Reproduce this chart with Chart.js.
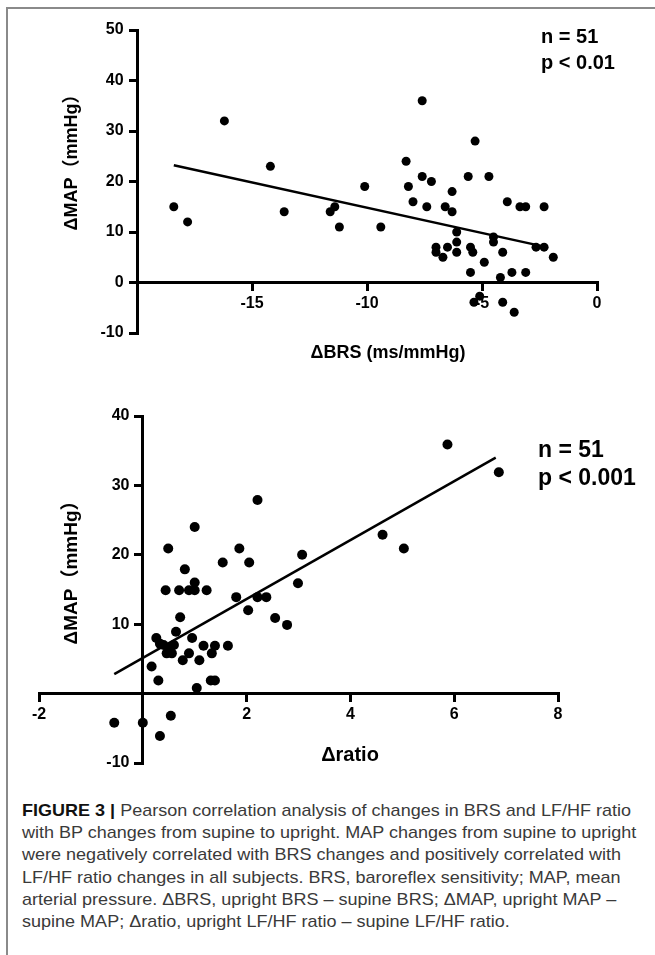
<!DOCTYPE html>
<html>
<head>
    <meta charset="UTF-8">
    <title>Figure 3</title>
    <script src="https://cdn.jsdelivr.net/npm/chart.js"></script>
    <style>
        body { margin: 0; background: #fff; }
        #page { position: relative; width: 655px; height: 955px; overflow: hidden; }
        #frame { position: absolute; left: 6px; top: 7px; width: 660px; height: 960px;
                 border-top: 2px solid #8a8a8a; border-left: 2px solid #8a8a8a; }
        #top-wrap { position: absolute; left: 0; top: 0; width: 655px; height: 380px; }
        #bottom-wrap { position: absolute; left: 0; top: 380px; width: 655px; height: 400px; }
        #caption { position: absolute; left: 22px; top: 800px; font-family: "Liberation Sans", "Roboto", sans-serif;
                   font-size: 17px; line-height: 22.2px; color: #3a3a3a; white-space: nowrap;
                   transform: scaleX(1.06); transform-origin: 0 0; }
        #caption b { font-weight: bold; color: #111; }
    </style>
</head>
<body>
<div id="page">
    <div id="frame"></div>
    <div id="top-wrap"><canvas id="brs-chart" width="655" height="380"></canvas></div>
    <div id="bottom-wrap"><canvas id="ratio-chart" width="655" height="400"></canvas></div>
    <div id="caption">
        <b>FIGURE 3 |</b> Pearson correlation analysis of changes in BRS and LF/HF ratio<br>
        with BP changes from supine to upright. MAP changes from supine to upright<br>
        were negatively correlated with BRS changes and positively correlated with<br>
        LF/HF ratio changes in all subjects. BRS, baroreflex sensitivity; MAP, mean<br>
        arterial pressure. &Delta;BRS, upright BRS &ndash; supine BRS; &Delta;MAP, upright MAP &ndash;<br>
        supine MAP; &Delta;ratio, upright LF/HF ratio &ndash; supine LF/HF ratio.
    </div>
</div>

<script>
// top panel: dBRS vs dMAP
const brsX = [-18.4, -17.8, -16.2, -14.2, -13.6, -11.6, -11.4, -11.2, -10.1, -9.4,
    -8.3, -8.2, -8.0, -7.6, -7.6, -7.4, -7.2, -7.0, -7.0, -6.7,
    -6.5, -6.6, -6.3, -6.3, -6.1, -6.1, -6.1, -5.6, -5.5, -5.4,
    -5.5, -5.3, -5.1, -5.35, -4.9, -4.7, -4.5, -4.5, -4.1, -4.1,
    -4.2, -3.9, -3.7, -3.6, -3.35, -3.1, -3.1, -2.65, -2.3, -2.3, -1.9];
const brsMap = [15, 12, 32, 23, 14, 14, 15, 11, 19, 11,
    24, 19, 16, 36, 21, 15, 20, 7, 6, 5,
    7, 15, 18, 14, 10, 8, 6, 21, 7, 6,
    2, 28, -2.7, -3.9, 4, 21, 9, 8, -3.9, 6,
    1, 16, 2, -5.9, 15, 15, 2, 7, 7, 15, 5];
const brsFitX = [-18.4, -2.2];
const brsFitY = [23.2, 7.0];
const brsTicksX = [-15, -10, -5, 0];
const brsTicksY = [-10, 0, 10, 20, 30, 40, 50];

// bottom panel: dratio vs dMAP
const ratioX = [-0.55, 0.0, 0.33, 0.54, 0.17, 0.30, 0.26, 0.33, 0.46, 0.56,
    0.60, 0.64, 0.72, 0.77, 0.89, 0.95, 1.09, 1.04, 1.17, 1.33,
    1.39, 1.31, 1.39, 1.64, 0.49, 1.00, 0.81, 0.44, 0.70, 0.89,
    1.00, 1.00, 1.23, 1.54, 1.86, 2.05, 1.80, 2.03, 2.21, 2.38,
    2.21, 3.07, 2.99, 2.55, 2.78, 5.87, 6.86, 4.62, 5.03, 0.40, 0.52];
const ratioMap = [-4.2, -4.2, -6.1, -3.2, 3.9, 1.9, 8, 7.2, 5.8, 5.8,
    7, 8.9, 11, 4.8, 5.8, 8, 4.8, 0.8, 6.9, 5.8,
    6.9, 1.9, 1.9, 6.9, 20.9, 24, 17.9, 14.9, 14.9, 14.9,
    16, 14.9, 14.9, 18.9, 20.9, 18.9, 13.9, 12, 13.9, 13.9,
    27.9, 20, 15.9, 10.9, 9.9, 35.9, 31.9, 22.9, 20.9, 7, 6.5];
const ratioFitX = [-0.55, 6.8];
const ratioFitY = [2.8, 34.0];
const ratioTicksX = [-2, 2, 4, 6, 8];
const ratioTicksY = [-10, 10, 20, 30, 40];

function pairs(xs, ys) {
    return xs.map((x, i) => ({x: x, y: ys[i]}));
}

const textPlugin = {
    id: 'panelText',
    afterDraw(chart, args, opts) {
        const ctx = chart.ctx;
        ctx.save();
        ctx.fillStyle = '#000';
        ctx.textBaseline = 'middle';
        opts.items.forEach(t => {
            ctx.save();
            ctx.font = t.font;
            ctx.textAlign = t.align || 'left';
            ctx.translate(t.x, t.y);
            if (t.rotate) ctx.rotate(-Math.PI / 2);
            ctx.fillText(t.text, 0, 0);
            ctx.restore();
        });
        ctx.restore();
    }
};

// y labels on an axis placed by value sit right on the line, so pad them with spaces
function axis(min, max, step, pos, keep, vertical) {
    return {
        type: 'linear',
        min: min,
        max: max,
        position: pos,
        afterBuildTicks: s => { s.ticks = s.ticks.filter(t => keep.includes(t.value)); },
        border: {color: '#000', width: 3},
        grid: {drawOnChartArea: false, color: '#000', lineWidth: 3, tickLength: 7, tickWidth: 3},
        ticks: {stepSize: step, color: '#000', padding: 4,
            callback: v => vertical ? v + '   ' : String(v),
            font: {family: 'Liberation Sans', weight: 'bold', size: 16}}
    };
}

const bold = (px) => 'bold ' + px + 'px "Liberation Sans", "Noto Sans CJK SC", sans-serif';

new Chart(document.getElementById('brs-chart'), {
    type: 'scatter',
    data: {
        datasets: [{
            data: pairs(brsX, brsMap),
            backgroundColor: '#000',
            borderWidth: 0,
            pointRadius: 4.5
        }, {
            type: 'line',
            data: pairs(brsFitX, brsFitY),
            borderColor: '#000',
            borderWidth: 2.5,
            pointRadius: 0
        }]
    },
    options: {
        responsive: false,
        animation: false,
        layout: {padding: {left: 137, right: 58, top: 30, bottom: 47}},
        plugins: {
            legend: {display: false},
            tooltip: {enabled: false},
            panelText: {items: [
                {text: 'ΔMAP（mmHg）', x: 72, y: 158, align: 'center', rotate: true, font: bold(18)},
                {text: 'ΔBRS (ms/mmHg)', x: 388, y: 353, align: 'center', font: bold(18)},
                {text: 'n = 51', x: 541, y: 37, font: bold(20)},
                {text: 'p < 0.01', x: 541, y: 63, font: bold(20)}
            ]}
        },
        scales: {
            x: axis(-20, 0, 5, {y: 0}, brsTicksX, false),
            y: axis(-10, 50, 10, {x: -20}, brsTicksY, true)
        }
    },
    plugins: [textPlugin]
});

new Chart(document.getElementById('ratio-chart'), {
    type: 'scatter',
    data: {
        datasets: [{
            data: pairs(ratioX, ratioMap),
            backgroundColor: '#000',
            borderWidth: 0,
            pointRadius: 5
        }, {
            type: 'line',
            data: pairs(ratioFitX, ratioFitY),
            borderColor: '#000',
            borderWidth: 2.5,
            pointRadius: 0
        }]
    },
    options: {
        responsive: false,
        animation: false,
        layout: {padding: {left: 39, right: 97, top: 36, bottom: 17}},
        plugins: {
            legend: {display: false},
            tooltip: {enabled: false},
            panelText: {items: [
                {text: 'ΔMAP（mmHg）', x: 72, y: 188, align: 'center', rotate: true, font: bold(19)},
                {text: 'Δratio', x: 350, y: 375, align: 'center', font: bold(20)},
                {text: 'n = 51', x: 538, y: 71, font: bold(23)},
                {text: 'p < 0.001', x: 538, y: 99, font: bold(23)}
            ]}
        },
        scales: {
            x: axis(-2, 8, 2, {y: 0}, ratioTicksX, false),
            y: axis(-10, 40, 10, {x: 0}, ratioTicksY, true)
        }
    },
    plugins: [textPlugin]
});
</script>
</body>
</html>
